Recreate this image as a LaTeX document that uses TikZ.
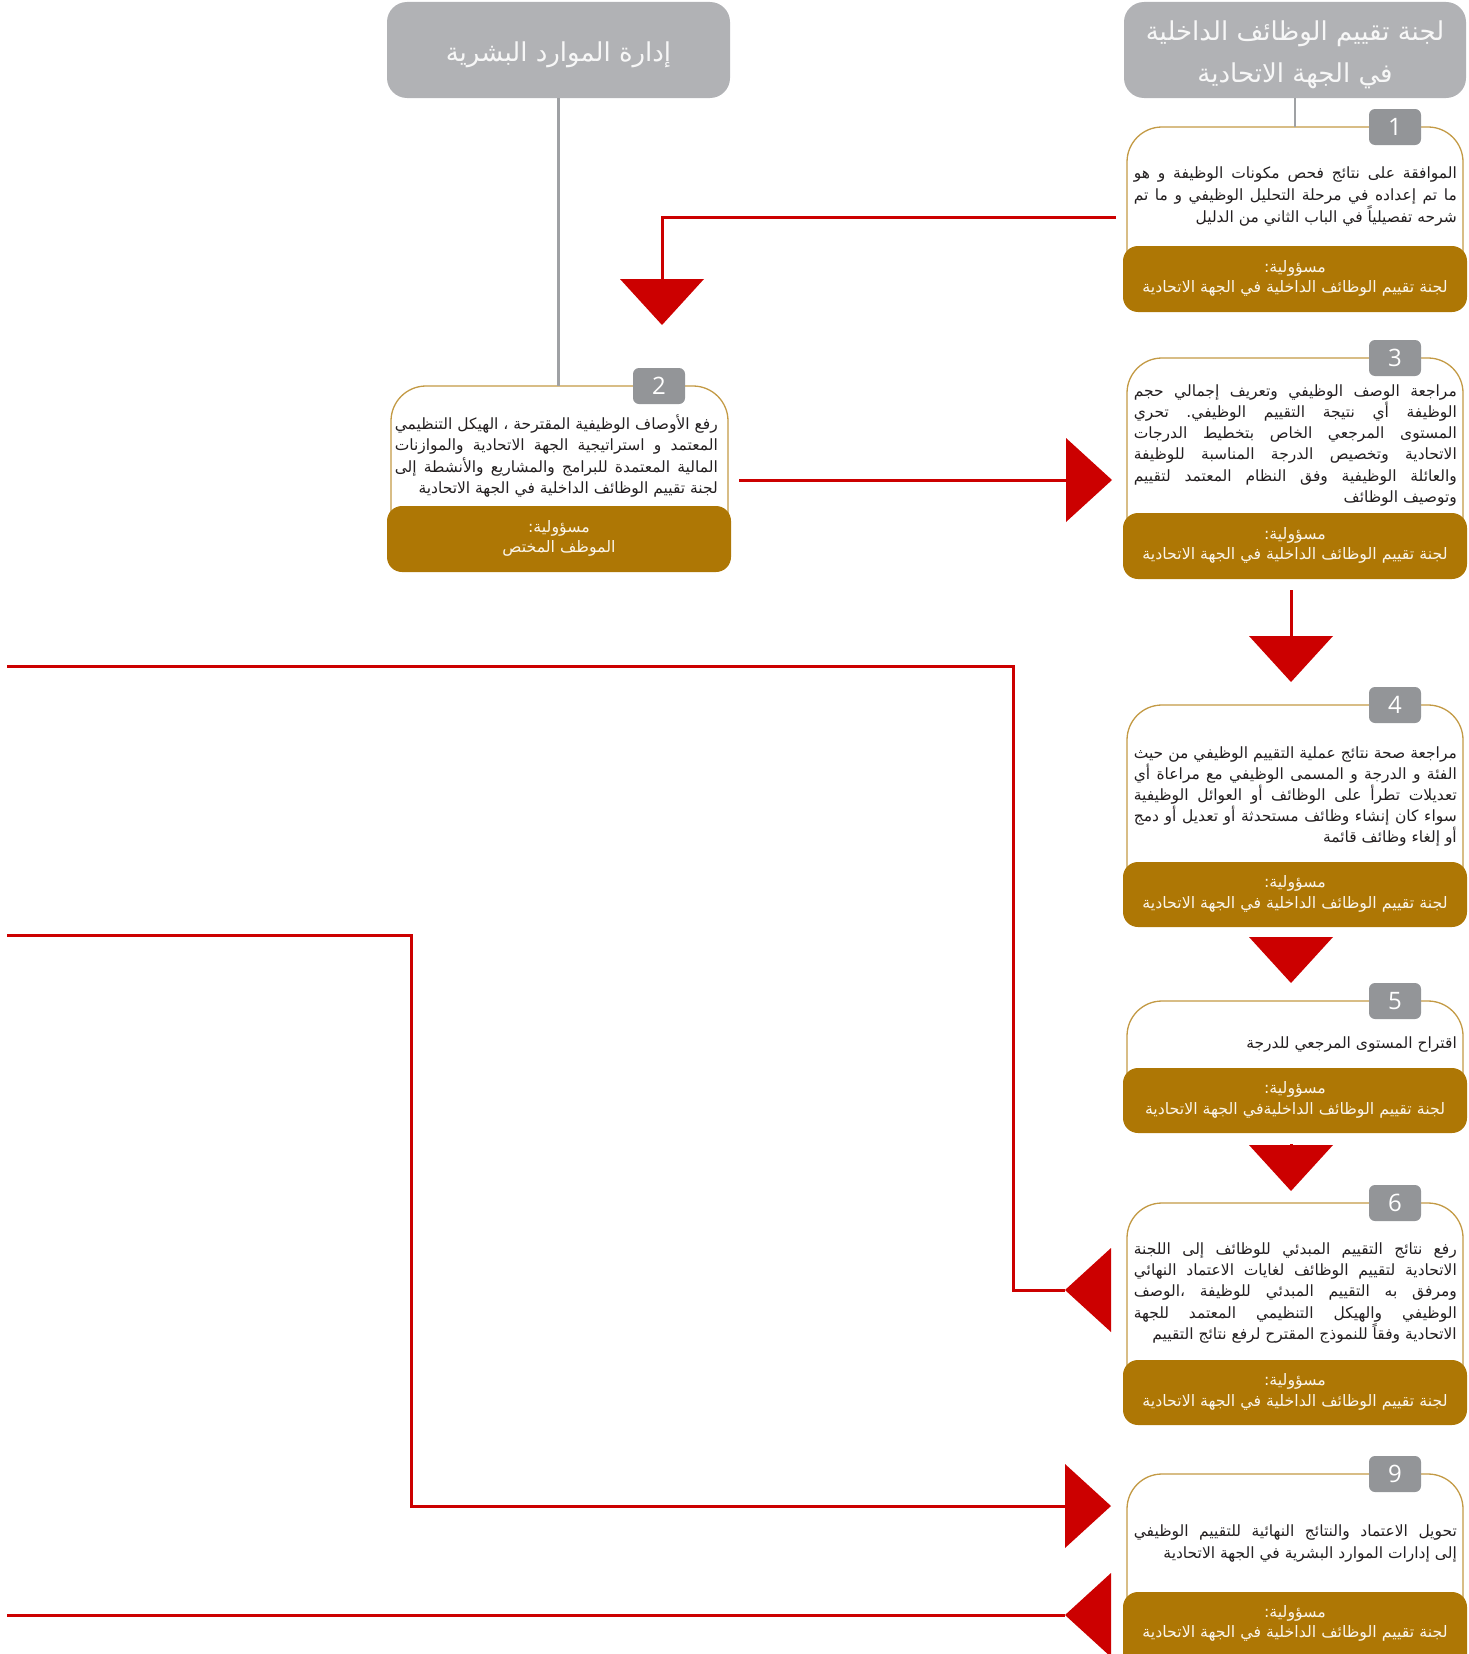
\documentclass[tikz,border=0pt]{standalone}
\usepackage{fontspec}
\usetikzlibrary{arrows.meta}
\TeXXeTstate=1
\frenchspacing
\newfontfamily\ar[Script=Arabic]{DejaVu Sans}
\newfontfamily\numf{Open Sans}
\definecolor{hdrgray}{HTML}{B1B2B5}
\definecolor{badgegray}{HTML}{939598}
\definecolor{linegray}{HTML}{9FA1A4}
\definecolor{goldf}{HTML}{AE7705}
\definecolor{goldl}{HTML}{C39A45}
\definecolor{arrred}{HTML}{CC0000}
\definecolor{bodyc}{HTML}{231F20}
\definecolor{cream}{HTML}{FBF5EA}
\definecolor{hdrtext}{HTML}{F7F7F7}
\newlength\bw \setlength\bw{323pt}
\newlength\gw \setlength\gw{330pt}
\newcommand\arJ[1]{\hbox to \bw{#1}}
\newcommand\arR[1]{\hbox to \bw{\hfill #1}}
\newcommand\arC[2]{\hbox to #1{\hfill #2\hfill}}
\newcommand\btext[2]{\vtop{\frenchspacing\hsize=\bw\baselineskip=#1\lineskiplimit=-30pt\lineskip=0pt #2}}
\newcommand\gtext[1]{\vtop{\hsize=\gw\baselineskip=20.5pt\lineskiplimit=-30pt\lineskip=0pt \arC{\gw}{\beginR مسؤولية:\endR}\arC{\gw}{#1}}}
\begin{document}
\begin{tikzpicture}[x=1pt,y=-1pt,
  hdr/.style={fill=hdrgray, rounded corners=20pt, inner sep=0pt, text=hdrtext, font=\ar\fontsize{26}{39}\selectfont, minimum width=342pt, minimum height=96pt},
  goldbox/.style={fill=goldf, rounded corners=15pt, inner sep=0pt, text=cream, font=\ar\fontsize{15.8}{20.5}\selectfont, text height=11pt, text depth=24.5pt, minimum width=344pt, minimum height=66pt},
  badge/.style={fill=badgegray, rounded corners=6pt, minimum width=52pt, minimum height=36pt, inner sep=0pt, text=white, font=\numf\fontsize{24}{24}\selectfont},
  body/.style={inner sep=0pt, anchor=base east, text=bodyc, font=\ar\fontsize{15.5}{21}\selectfont\frenchspacing},
  outl/.style={draw=goldl, line width=1.3pt, rounded corners=35pt},
  conn/.style={draw=linegray, line width=2.5pt},
  redarr/.style={draw=arrred, line width=3pt, -{Triangle[length=46pt,width=84pt,line width=0pt]}},
  redrev/.style={draw=arrred, line width=3pt, -{Triangle[reversed,length=46pt,width=84pt,line width=0pt]}}
]
\useasboundingbox (0,0) rectangle (1468,1654);
\clip (0,0) rectangle (1468,1654);

% headers
\node[hdr, text height=24pt, text depth=42pt] (h1) at (1295,50)
  {\vtop{\baselineskip=41.5pt\arC{330pt}{\beginR لجنة تقييم الوظائف الداخلية\endR}\arC{330pt}{\beginR في الجهة الاتحادية\endR}}};
\node[hdr, minimum width=343pt, text height=26pt, text depth=2pt] (h2) at (558.5,50)
  {\arC{330pt}{\beginR إدارة الموارد البشرية\endR}};

% outlines of the white boxes
\draw[outl] (1127,261) -- (1127,127) -- (1463,127) -- (1463,261);
\draw[outl] (391,521) -- (391,386) -- (728,386) -- (728,521);
\draw[outl] (1127,528) -- (1127,358) -- (1463,358) -- (1463,528);
\draw[outl] (1127,877) -- (1127,705) -- (1463,705) -- (1463,877);
\draw[outl] (1127,1083) -- (1127,1001) -- (1463,1001) -- (1463,1083);
\draw[outl] (1127,1375) -- (1127,1203) -- (1463,1203) -- (1463,1375);
\draw[outl] (1127,1607) -- (1127,1474) -- (1463,1474) -- (1463,1607);

% grey connectors
\coordinate (o1) at (1295,127);
\coordinate (o2) at (558.5,386);
\draw[conn] (h1.south) -- (o1);
\draw[conn] (h2.south) -- (o2);

% gold responsibility boxes
\node[goldbox] (g1) at (1295,279) {\gtext{\beginR لجنة تقييم الوظائف الداخلية في الجهة الاتحادية\endR}};
\node[goldbox] (g2) at (559,539) {\gtext{\beginR الموظف المختص\endR}};
\node[goldbox] (g3) at (1295,546) {\gtext{\beginR لجنة تقييم الوظائف الداخلية في الجهة الاتحادية\endR}};
\node[goldbox, minimum height=65pt] (g4) at (1295,894.5) {\gtext{\beginR لجنة تقييم الوظائف الداخلية في الجهة الاتحادية\endR}};
\node[goldbox, minimum height=65pt] (g5) at (1295,1100.5) {\gtext{\beginR لجنة تقييم الوظائف الداخليةفي الجهة الاتحادية\endR}};
\node[goldbox, minimum height=65pt] (g6) at (1295,1392.5) {\gtext{\beginR لجنة تقييم الوظائف الداخلية في الجهة الاتحادية\endR}};
\node[goldbox, minimum height=80pt, text depth=41pt] (g9) at (1295,1632) {\gtext{\beginR لجنة تقييم الوظائف الداخلية في الجهة الاتحادية\endR}};

% number badges
\node[badge] (n1) at (1395,127) {1};
\node[badge] (n2) at (659,386) {2};
\node[badge] (n3) at (1395,358) {3};
\node[badge] (n4) at (1395,705) {4};
\node[badge] (n5) at (1395,1001) {5};
\node[badge] (n6) at (1395,1203) {6};
\node[badge] (n9) at (1395,1474) {9};

% body texts
\node[body] (t1) at (1457,178) {\btext{22pt}{%
  \arJ{\beginR الموافقة على نتائج فحص مكونات الوظيفة و هو\endR}%
  \arJ{\beginR ما تم إعداده في مرحلة التحليل الوظيفي و ما تم\endR}%
  \arR{\beginR شرحه تفصيلياً في الباب الثاني من الدليل\endR}}};
\node[body] (t2) at (718,429) {\btext{21.5pt}{%
  \arJ{\beginR رفع الأوصاف الوظيفية المقترحة ، الهيكل التنظيمي\endR}%
  \arJ{\beginR المعتمد و استراتيجية الجهة الاتحادية والموازنات\endR}%
  \arJ{\beginR المالية المعتمدة للبرامج والمشاريع والأنشطة إلى\endR}%
  \arR{\beginR لجنة تقييم الوظائف الداخلية في الجهة الاتحادية\endR}}};
\node[body] (t3) at (1457,396) {\btext{21.3pt}{%
  \arJ{\beginR مراجعة الوصف الوظيفي وتعريف إجمالي حجم\endR}%
  \arJ{\beginR الوظيفة أي نتيجة التقييم الوظيفي. تحري\endR}%
  \arJ{\beginR المستوى المرجعي الخاص بتخطيط الدرجات\endR}%
  \arJ{\beginR الاتحادية وتخصيص الدرجة المناسبة للوظيفة\endR}%
  \arJ{\beginR والعائلة الوظيفية وفق النظام المعتمد لتقييم\endR}%
  \arR{\beginR وتوصيف الوظائف\endR}}};
\node[body] (t4) at (1457,758) {\btext{21.1pt}{%
  \arJ{\beginR مراجعة صحة نتائج عملية التقييم الوظيفي من حيث\endR}%
  \arJ{\beginR الفئة و الدرجة و المسمى الوظيفي مع مراعاة أي\endR}%
  \arJ{\beginR تعديلات تطرأ على الوظائف أو العوائل الوظيفية\endR}%
  \arJ{\beginR سواء كان إنشاء وظائف مستحدثة أو تعديل أو دمج\endR}%
  \arR{\beginR أو إلغاء وظائف قائمة\endR}}};
\node[body] (t5) at (1457,1048) {\btext{21pt}{%
  \arR{\beginR اقتراح المستوى المرجعي للدرجة\endR}}};
\node[body] (t6) at (1457,1254) {\btext{21.4pt}{%
  \arJ{\beginR رفع نتائج التقييم المبدئي للوظائف إلى اللجنة\endR}%
  \arJ{\beginR الاتحادية لتقييم الوظائف لغايات الاعتماد النهائي\endR}%
  \arJ{\beginR ومرفق به التقييم المبدئي للوظيفة ،الوصف\endR}%
  \arJ{\beginR الوظيفي والهيكل التنظيمي المعتمد للجهة\endR}%
  \arR{\beginR الاتحادية وفقاً للنموذج المقترح لرفع نتائج التقييم\endR}}};
\node[body] (t9) at (1457,1536) {\btext{22.1pt}{%
  \arJ{\beginR تحويل الاعتماد والنتائج النهائية للتقييم الوظيفي\endR}%
  \arR{\beginR إلى إدارات الموارد البشرية في الجهة الاتحادية\endR}}};

% red flow connectors
\coordinate (a1s) at (1116,217);
\coordinate (a1e) at (662,325);
\draw[redarr] (a1s) -| (a1e);
\coordinate (a2s) at (739,480);
\coordinate (a2e) at (1112,480);
\draw[redarr] (a2s) -- (a2e);
\coordinate (a3s) at (1291,590);
\coordinate (a3e) at (1291,682);
\draw[redarr] (a3s) -- (a3e);
\coordinate (a4s) at (1291,937);
\coordinate (a4e) at (1291,983);
\draw[redarr] (a4s) -- (a4e);
\coordinate (a5s) at (1291,1144);
\coordinate (a5e) at (1291,1191);
\draw[redarr] (a5s) -- (a5e);
\coordinate (a6s) at (7,666);
\coordinate (a6k) at (1013,1290);
\coordinate (a6e) at (1111,1290);
\draw[redrev] (a6s) -| (a6k) -- (a6e);
\coordinate (a7s) at (7,935);
\coordinate (a7k) at (411,1506);
\coordinate (a7e) at (1111,1506);
\draw[redarr] (a7s) -| (a7k) -- (a7e);
\coordinate (a8s) at (7,1615);
\coordinate (a8e) at (1111,1615);
\draw[redrev] (a8s) -- (a8e);
\end{tikzpicture}
\end{document}
